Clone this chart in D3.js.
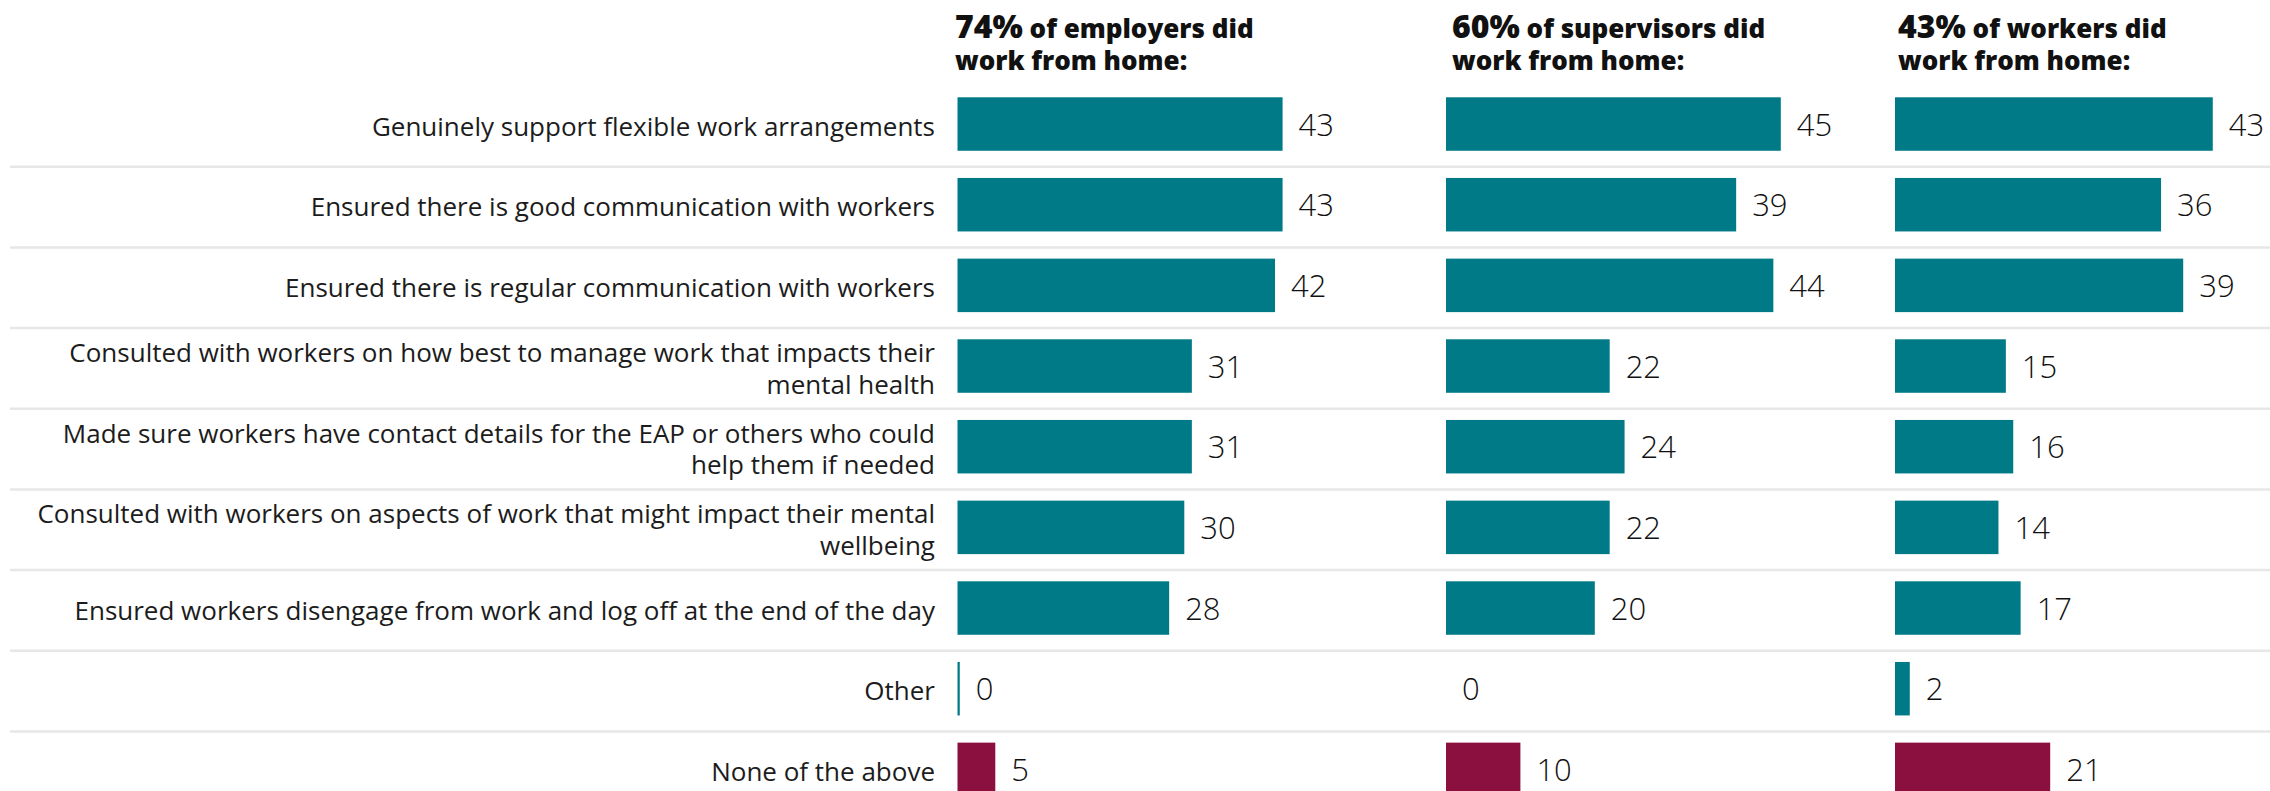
<!DOCTYPE html>
<html>
<head>
<meta charset="utf-8">
<script src="https://cdn.jsdelivr.net/npm/d3@7"></script>
<style>
  html, body { margin: 0; padding: 0; background: #ffffff; }
  svg { display: block; }
</style>
</head>
<body>
<svg id="chart" width="2270" height="791"></svg>
<script>
// ---------------- DATA ----------------
const categories = [
  "Genuinely support flexible work arrangements",
  "Ensured there is good communication with workers",
  "Ensured there is regular communication with workers",
  "Consulted with workers on how best to manage work that impacts their\nmental health",
  "Made sure workers have contact details for the EAP or others who could\nhelp them if needed",
  "Consulted with workers on aspects of work that might impact their mental\nwellbeing",
  "Ensured workers disengage from work and log off at the end of the day",
  "Other",
  "None of the above"
];
const employers   = [43, 43, 42, 31, 31, 30, 28, 0.3, 5];
const supervisors = [45, 39, 44, 22, 24, 22, 20, 0, 10];
const workers     = [43, 36, 39, 15, 16, 14, 17, 2, 21];

const titlePct  = ["74%", "60%", "43%"];
const titleRest = ["of employers did", "of supervisors did", "of workers did"];
const titleLine2 = "work from home:";
const negativeCategory = "None of the above";

// ---------------- LAYOUT ----------------
const W = 2270, H = 791;
const teal = "#007a87", crimson = "#8b1040", grid = "#e7e7e7";
const labelFont = "'Open Sans', 'Noto Sans', sans-serif";

const panels = [
  { values: employers,   x0: 957.5, width: 378,   titleX: 955 },
  { values: supervisors, x0: 1446,  width: 372,   titleX: 1452 },
  { values: workers,     x0: 1895,  width: 369.5, titleX: 1898 }
];

const svg = d3.select("#chart");

const y = d3.scaleBand()
  .domain(categories)
  .range([70.1, 823.3])
  .padding(0.337);

// gridlines
svg.append("g").selectAll("line")
  .data(categories.slice(0, -1))
  .join("line")
  .attr("x1", 10).attr("x2", W)
  .attr("y1", d => y(d) + y.bandwidth() + 16)
  .attr("y2", d => y(d) + y.bandwidth() + 16)
  .attr("stroke", grid)
  .attr("stroke-width", 2.5);

// category labels
const lab = svg.append("g")
  .attr("font-family", labelFont)
  .attr("font-size", 26)
  .attr("fill", "#1c1c1c")
  .attr("text-anchor", "end");

categories.forEach(c => {
  const lines = c.split("\n");
  const cy = y(c) + y.bandwidth() / 2;
  const t = lab.append("text").attr("x", 935);
  lines.forEach((ln, i) => {
    t.append("tspan")
      .attr("x", 935)
      .attr("y", cy + 11.5 - (lines.length - 1) * 15.5 + i * 31.5)
      .text(ln);
  });
});

// panels
panels.forEach((p, pi) => {
  const x = d3.scaleLinear().domain([0, 50]).range([p.x0, p.x0 + p.width]);
  const g = svg.append("g");

  // title
  const tt = g.append("text")
    .attr("font-family", "'Open Sans', sans-serif")
    .attr("font-weight", 800)
    .attr("fill", "#111");
  const l1 = tt.append("tspan").attr("x", p.titleX).attr("y", 37.5);
  l1.append("tspan").attr("font-size", 32).text(titlePct[pi]);
  l1.append("tspan").attr("font-size", 26).text(" " + titleRest[pi]);
  tt.append("tspan").attr("x", p.titleX).attr("y", 70).attr("font-size", 26).text(titleLine2);

  const data = categories.map((c, i) => ({ c, v: p.values[i] }));

  g.selectAll("rect")
    .data(data.filter(d => d.v > 0))
    .join("rect")
    .attr("x", x(0))
    .attr("y", d => y(d.c))
    .attr("width", d => x(d.v) - x(0))
    .attr("height", y.bandwidth())
    .attr("fill", d => d.c === negativeCategory ? crimson : teal);

  g.selectAll("text.val")
    .data(data)
    .join("text")
    .attr("class", "val")
    .attr("x", d => x(d.v) + 16)
    .attr("y", d => y(d.c) + y.bandwidth() / 2 + 11.5)
    .attr("font-family", labelFont)
    .attr("font-weight", 300)
    .attr("font-size", 31)
    .attr("fill", "#111")
    .text(d => Math.round(d.v));
});
</script>
</body>
</html>
